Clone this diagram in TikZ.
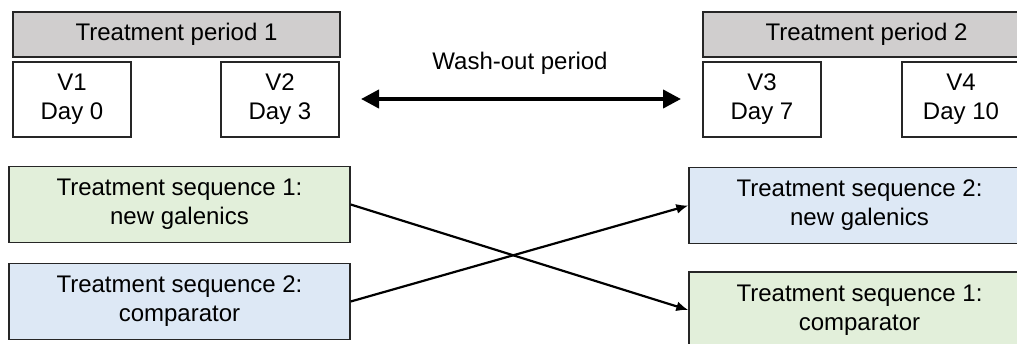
\documentclass[tikz,border=0pt]{standalone}
\usepackage{fontspec}
\setmainfont{Liberation Sans}
\usetikzlibrary{arrows.meta}
\definecolor{periodgray}{RGB}{208,206,206}
\definecolor{seqgreen}{RGB}{226,239,218}
\definecolor{seqblue}{RGB}{221,232,245}
\begin{document}
\begin{tikzpicture}[x=1pt, y=-1pt,
every node/.style={font=\fontsize{24}{29}\selectfont, align=center, inner sep=0pt},
box/.style={draw=black!85, line width=1.4pt},
period/.style={box, fill=periodgray, minimum width=327pt, minimum height=45pt},
visit/.style={box, fill=white, minimum width=118pt, minimum height=75pt},
sequence/.style={box, minimum width=341pt, minimum height=76pt},
cross/.style={line width=2.2pt, -{Latex[length=12pt,width=10pt]}}]
\clip (0,0) rectangle (1017,343);
\node[period] (per1) at (176.5,34.5) {Treatment period 1};
\node[visit] (v1) at (72,99.5) {V1\\Day 0};
\node[visit] (v2) at (280,99.5) {V2\\Day 3};
\node[period] (per2) at (866.5,34.5) {Treatment period 2};
\node[visit] (v3) at (762,99.5) {V3\\Day 7};
\node[visit] (v4) at (961,99.5) {V4\\Day 10};
\node (wash) at (520,63) {Wash-out period};
\coordinate (washL) at (361,99);
\coordinate (washR) at (681,99);
\draw[line width=4pt, {Triangle[length=18pt,width=18pt]}-{Triangle[length=18pt,width=18pt]}] (washL) -- (washR);
\node[sequence, fill=seqgreen] (seq1a) at (179.5,204.5) {Treatment sequence 1:\\new galenics};
\node[sequence, fill=seqblue] (seq2a) at (179.5,301.5) {Treatment sequence 2:\\comparator};
\node[sequence, fill=seqblue] (seq2b) at (859.5,205.5) {Treatment sequence 2:\\new galenics};
\node[sequence, fill=seqgreen] (seq1b) at (859.5,310) {Treatment sequence 1:\\comparator};
\draw[cross] (seq1a.east) -- (seq1b.west);
\draw[cross] (seq2a.east) -- (seq2b.west);
\end{tikzpicture}
\end{document}
